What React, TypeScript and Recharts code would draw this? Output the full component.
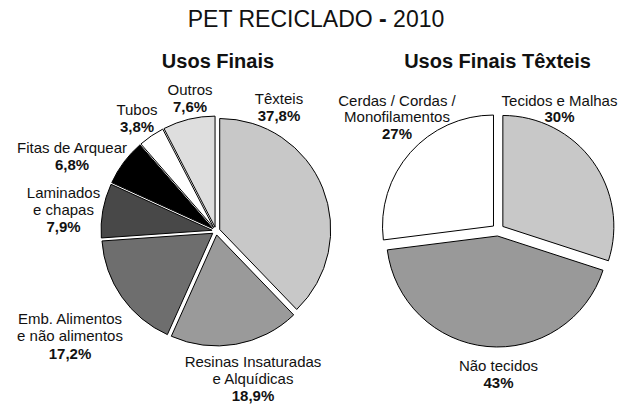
import React from 'react';
import { PieChart, Pie, Cell, Sector } from 'recharts';

// Usos Finais (PET reciclado 2010) - clockwise from 12 o'clock
const finaisNames = [
  'Têxteis',
  'Resinas Insaturadas|e Alquídicas',
  'Emb. Alimentos|e não alimentos',
  'Laminados|e chapas',
  'Fitas de Arquear',
  'Tubos',
  'Outros',
];
const finaisValues = [37.8, 18.9, 17.2, 7.9, 6.8, 3.8, 7.6];
const finaisColors = ['#c8c8c8', '#9a9a9a', '#6e6e6e', '#484848', '#000000', '#ffffff', '#dedede'];

// Usos Finais Têxteis
const texteisNames = ['Tecidos e Malhas', 'Não tecidos', 'Cerdas / Cordas /|Monofilamentos'];
const texteisValues = [30, 43, 27];
const texteisColors = ['#c8c8c8', '#999999', '#ffffff'];

// label anchors (x centre, first baseline, line step)
const finaisLabelPos = [
  { x: 279, y: 104, step: 16.5 },
  { x: 253, y: 367, step: 16.8 },
  { x: 70, y: 324, step: 17.3 },
  { x: 63.5, y: 197.5, step: 17.3 },
  { x: 72, y: 153, step: 17 },
  { x: 137, y: 115, step: 17 },
  { x: 190, y: 95, step: 16.8 },
];
const texteisLabelPos = [
  { x: 559.5, y: 105.5, step: 16.8 },
  { x: 498.5, y: 371, step: 17 },
  { x: 397, y: 105.5, step: 16.8 },
];

const FONT = '"Liberation Sans", Arial, Helvetica, sans-serif';

const finaisData = finaisNames.map((name, i) => ({ name, value: finaisValues[i] }));
const texteisData = texteisNames.map((name, i) => ({ name, value: texteisValues[i] }));

const pctComma = (v: number) => v.toFixed(1).replace('.', ',') + '%';
const pctInt = (v: number) => `${v}%`;

// pull each slice out along its mid angle
const explode = (offset: number) => (props: any) => {
  const { cx, cy, midAngle } = props;
  const rad = (-midAngle * Math.PI) / 180;
  return (
    <Sector
      cx={cx + offset * Math.cos(rad)}
      cy={cy + offset * Math.sin(rad)}
      innerRadius={props.innerRadius}
      outerRadius={props.outerRadius}
      startAngle={props.startAngle}
      endAngle={props.endAngle}
      fill={props.fill}
      stroke="#000"
      strokeWidth={1}
    />
  );
};

const makeLabel =
  (
    names: string[],
    values: number[],
    pos: { x: number; y: number; step: number }[],
    fmt: (v: number) => string,
  ) =>
  (props: any) => {
    const i = props.index;
    const lines = names[i].split('|');
    const p = pos[i];
    return (
      <text x={p.x} y={p.y} textAnchor="middle" fontFamily={FONT} fontSize={15} fill="#111">
        {lines.map((l, k) => (
          <tspan key={k} x={p.x} y={p.y + k * p.step}>
            {l}
          </tspan>
        ))}
        <tspan x={p.x} y={p.y + lines.length * p.step} fontWeight="bold">
          {fmt(values[i])}
        </tspan>
      </text>
    );
  };

const App: React.FC = () => {
  const leftShape = explode(4);
  const rightShape = explode(6);
  return (
    <div style={{ position: 'absolute', left: 0, top: 0, width: 630, height: 404, background: '#fff' }}>
      <PieChart width={630} height={404} margin={{ top: 0, right: 0, bottom: 0, left: 0 }}>
        <Pie
          data={finaisData}
          dataKey="value"
          cx={216}
          cy={231}
          outerRadius={111}
          startAngle={90}
          endAngle={-270}
          isAnimationActive={false}
          shape={leftShape}
          activeShape={leftShape}
          inactiveShape={leftShape}
          label={makeLabel(finaisNames, finaisValues, finaisLabelPos, pctComma)}
          labelLine={false}
          stroke="#000"
        >
          {finaisData.map((d, i) => (
            <Cell key={d.name} fill={finaisColors[i]} />
          ))}
        </Pie>
        <Pie
          data={texteisData}
          dataKey="value"
          cx={498}
          cy={230}
          outerRadius={111}
          startAngle={90}
          endAngle={-270}
          isAnimationActive={false}
          shape={rightShape}
          activeShape={rightShape}
          inactiveShape={rightShape}
          label={makeLabel(texteisNames, texteisValues, texteisLabelPos, pctInt)}
          labelLine={false}
          stroke="#000"
        >
          {texteisData.map((d, i) => (
            <Cell key={d.name} fill={texteisColors[i]} />
          ))}
        </Pie>
      </PieChart>
      <svg width={630} height={404} style={{ position: 'absolute', left: 0, top: 0, pointerEvents: 'none' }}>
        <text x={316} y={27} textAnchor="middle" fontFamily={FONT} fontSize={23} fill="#111">
          PET RECICLADO <tspan fontWeight="bold">-</tspan> 2010
        </text>
        <text x={218} y={68} textAnchor="middle" fontFamily={FONT} fontSize={20} fontWeight="bold" fill="#111">
          Usos Finais
        </text>
        <text x={497.5} y={68} textAnchor="middle" fontFamily={FONT} fontSize={20} fontWeight="bold" fill="#111">
          Usos Finais Têxteis
        </text>
      </svg>
    </div>
  );
};

export default App;
